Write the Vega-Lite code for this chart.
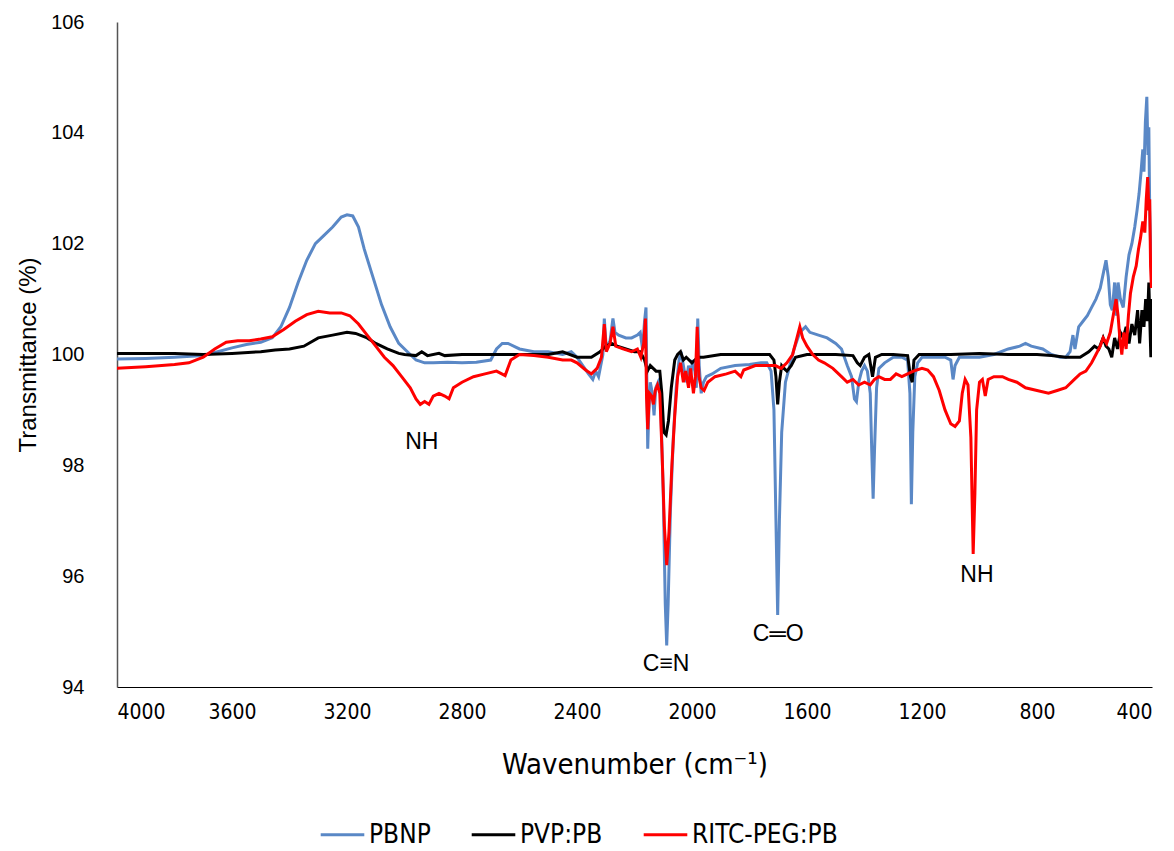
{
  "$schema": "https://vega.github.io/schema/vega-lite/v6.json",
  "width": 1035,
  "height": 665,
  "autosize": "none",
  "padding": {"left": 117, "top": 22, "right": 22, "bottom": 164},
  "background": "white",
  "config": {"view": {"stroke": null}},
  "datasets": {
    "spectra": [
      {"w":4000,"T":99.92,"s":"PBNP"},{"w":3900,"T":99.93,"s":"PBNP"},{"w":3800,"T":99.95,"s":"PBNP"},{"w":3700,"T":99.98,"s":"PBNP"},{"w":3650,"T":100.05,"s":"PBNP"},{"w":3600,"T":100.12,"s":"PBNP"},{"w":3550,"T":100.18,"s":"PBNP"},{"w":3500,"T":100.22,"s":"PBNP"},{"w":3460,"T":100.3,"s":"PBNP"},{"w":3430,"T":100.5,"s":"PBNP"},{"w":3400,"T":100.85,"s":"PBNP"},{"w":3370,"T":101.3,"s":"PBNP"},{"w":3340,"T":101.7,"s":"PBNP"},{"w":3310,"T":102.0,"s":"PBNP"},{"w":3280,"T":102.15,"s":"PBNP"},{"w":3250,"T":102.3,"s":"PBNP"},{"w":3220,"T":102.48,"s":"PBNP"},{"w":3200,"T":102.52,"s":"PBNP"},{"w":3180,"T":102.5,"s":"PBNP"},{"w":3160,"T":102.3,"s":"PBNP"},{"w":3140,"T":101.9,"s":"PBNP"},{"w":3110,"T":101.4,"s":"PBNP"},{"w":3080,"T":100.9,"s":"PBNP"},{"w":3050,"T":100.5,"s":"PBNP"},{"w":3020,"T":100.2,"s":"PBNP"},{"w":2990,"T":100.05,"s":"PBNP"},{"w":2960,"T":99.9,"s":"PBNP"},{"w":2930,"T":99.85,"s":"PBNP"},{"w":2900,"T":99.85,"s":"PBNP"},{"w":2850,"T":99.86,"s":"PBNP"},{"w":2800,"T":99.85,"s":"PBNP"},{"w":2750,"T":99.86,"s":"PBNP"},{"w":2700,"T":99.9,"s":"PBNP"},{"w":2680,"T":100.1,"s":"PBNP"},{"w":2660,"T":100.2,"s":"PBNP"},{"w":2640,"T":100.2,"s":"PBNP"},{"w":2600,"T":100.1,"s":"PBNP"},{"w":2550,"T":100.05,"s":"PBNP"},{"w":2500,"T":100.05,"s":"PBNP"},{"w":2450,"T":100.0,"s":"PBNP"},{"w":2420,"T":100.05,"s":"PBNP"},{"w":2400,"T":99.95,"s":"PBNP"},{"w":2380,"T":99.8,"s":"PBNP"},{"w":2360,"T":99.65,"s":"PBNP"},{"w":2345,"T":99.55,"s":"PBNP"},{"w":2335,"T":99.7,"s":"PBNP"},{"w":2325,"T":99.6,"s":"PBNP"},{"w":2310,"T":100.0,"s":"PBNP"},{"w":2305,"T":100.65,"s":"PBNP"},{"w":2298,"T":100.1,"s":"PBNP"},{"w":2285,"T":100.25,"s":"PBNP"},{"w":2275,"T":100.65,"s":"PBNP"},{"w":2268,"T":100.4,"s":"PBNP"},{"w":2255,"T":100.35,"s":"PBNP"},{"w":2230,"T":100.3,"s":"PBNP"},{"w":2210,"T":100.3,"s":"PBNP"},{"w":2190,"T":100.35,"s":"PBNP"},{"w":2180,"T":100.4,"s":"PBNP"},{"w":2172,"T":100.1,"s":"PBNP"},{"w":2165,"T":100.6,"s":"PBNP"},{"w":2160,"T":100.85,"s":"PBNP"},{"w":2157,"T":99.5,"s":"PBNP"},{"w":2154,"T":98.3,"s":"PBNP"},{"w":2150,"T":99.0,"s":"PBNP"},{"w":2145,"T":99.5,"s":"PBNP"},{"w":2138,"T":99.3,"s":"PBNP"},{"w":2132,"T":98.9,"s":"PBNP"},{"w":2126,"T":99.4,"s":"PBNP"},{"w":2118,"T":99.5,"s":"PBNP"},{"w":2110,"T":99.3,"s":"PBNP"},{"w":2100,"T":97.5,"s":"PBNP"},{"w":2093,"T":95.5,"s":"PBNP"},{"w":2088,"T":94.75,"s":"PBNP"},{"w":2083,"T":95.5,"s":"PBNP"},{"w":2075,"T":97.2,"s":"PBNP"},{"w":2065,"T":98.5,"s":"PBNP"},{"w":2055,"T":99.4,"s":"PBNP"},{"w":2045,"T":99.9,"s":"PBNP"},{"w":2038,"T":100.05,"s":"PBNP"},{"w":2030,"T":99.8,"s":"PBNP"},{"w":2020,"T":99.5,"s":"PBNP"},{"w":2012,"T":99.8,"s":"PBNP"},{"w":2005,"T":99.6,"s":"PBNP"},{"w":1998,"T":99.9,"s":"PBNP"},{"w":1990,"T":99.7,"s":"PBNP"},{"w":1985,"T":99.4,"s":"PBNP"},{"w":1980,"T":100.65,"s":"PBNP"},{"w":1975,"T":99.8,"s":"PBNP"},{"w":1968,"T":99.3,"s":"PBNP"},{"w":1960,"T":99.5,"s":"PBNP"},{"w":1950,"T":99.6,"s":"PBNP"},{"w":1930,"T":99.65,"s":"PBNP"},{"w":1900,"T":99.75,"s":"PBNP"},{"w":1850,"T":99.8,"s":"PBNP"},{"w":1800,"T":99.82,"s":"PBNP"},{"w":1760,"T":99.85,"s":"PBNP"},{"w":1740,"T":99.85,"s":"PBNP"},{"w":1725,"T":99.7,"s":"PBNP"},{"w":1715,"T":99.0,"s":"PBNP"},{"w":1708,"T":97.0,"s":"PBNP"},{"w":1702,"T":95.3,"s":"PBNP"},{"w":1696,"T":97.0,"s":"PBNP"},{"w":1688,"T":98.6,"s":"PBNP"},{"w":1675,"T":99.5,"s":"PBNP"},{"w":1660,"T":99.8,"s":"PBNP"},{"w":1645,"T":100.1,"s":"PBNP"},{"w":1625,"T":100.4,"s":"PBNP"},{"w":1605,"T":100.5,"s":"PBNP"},{"w":1590,"T":100.4,"s":"PBNP"},{"w":1560,"T":100.35,"s":"PBNP"},{"w":1530,"T":100.3,"s":"PBNP"},{"w":1500,"T":100.2,"s":"PBNP"},{"w":1480,"T":100.1,"s":"PBNP"},{"w":1460,"T":99.8,"s":"PBNP"},{"w":1445,"T":99.6,"s":"PBNP"},{"w":1435,"T":99.2,"s":"PBNP"},{"w":1428,"T":99.15,"s":"PBNP"},{"w":1420,"T":99.5,"s":"PBNP"},{"w":1410,"T":99.7,"s":"PBNP"},{"w":1400,"T":99.8,"s":"PBNP"},{"w":1390,"T":99.7,"s":"PBNP"},{"w":1380,"T":99.3,"s":"PBNP"},{"w":1375,"T":98.3,"s":"PBNP"},{"w":1370,"T":97.4,"s":"PBNP"},{"w":1365,"T":98.3,"s":"PBNP"},{"w":1358,"T":99.4,"s":"PBNP"},{"w":1350,"T":99.75,"s":"PBNP"},{"w":1330,"T":99.85,"s":"PBNP"},{"w":1300,"T":99.95,"s":"PBNP"},{"w":1270,"T":99.95,"s":"PBNP"},{"w":1250,"T":99.9,"s":"PBNP"},{"w":1242,"T":99.3,"s":"PBNP"},{"w":1237,"T":97.3,"s":"PBNP"},{"w":1232,"T":98.6,"s":"PBNP"},{"w":1225,"T":99.6,"s":"PBNP"},{"w":1215,"T":99.85,"s":"PBNP"},{"w":1200,"T":99.95,"s":"PBNP"},{"w":1150,"T":99.95,"s":"PBNP"},{"w":1120,"T":99.95,"s":"PBNP"},{"w":1100,"T":99.9,"s":"PBNP"},{"w":1092,"T":99.55,"s":"PBNP"},{"w":1085,"T":99.8,"s":"PBNP"},{"w":1070,"T":99.95,"s":"PBNP"},{"w":1000,"T":99.95,"s":"PBNP"},{"w":950,"T":100.0,"s":"PBNP"},{"w":900,"T":100.1,"s":"PBNP"},{"w":860,"T":100.15,"s":"PBNP"},{"w":840,"T":100.2,"s":"PBNP"},{"w":820,"T":100.15,"s":"PBNP"},{"w":780,"T":100.1,"s":"PBNP"},{"w":750,"T":100.0,"s":"PBNP"},{"w":720,"T":99.95,"s":"PBNP"},{"w":700,"T":99.95,"s":"PBNP"},{"w":685,"T":100.05,"s":"PBNP"},{"w":675,"T":100.35,"s":"PBNP"},{"w":668,"T":100.1,"s":"PBNP"},{"w":655,"T":100.5,"s":"PBNP"},{"w":640,"T":100.6,"s":"PBNP"},{"w":625,"T":100.7,"s":"PBNP"},{"w":610,"T":100.85,"s":"PBNP"},{"w":595,"T":101.0,"s":"PBNP"},{"w":580,"T":101.2,"s":"PBNP"},{"w":568,"T":101.5,"s":"PBNP"},{"w":560,"T":101.7,"s":"PBNP"},{"w":552,"T":101.4,"s":"PBNP"},{"w":545,"T":100.9,"s":"PBNP"},{"w":538,"T":100.8,"s":"PBNP"},{"w":530,"T":101.3,"s":"PBNP"},{"w":524,"T":100.7,"s":"PBNP"},{"w":518,"T":101.3,"s":"PBNP"},{"w":510,"T":101.0,"s":"PBNP"},{"w":500,"T":100.85,"s":"PBNP"},{"w":490,"T":101.4,"s":"PBNP"},{"w":480,"T":101.8,"s":"PBNP"},{"w":470,"T":102.0,"s":"PBNP"},{"w":460,"T":102.3,"s":"PBNP"},{"w":452,"T":102.6,"s":"PBNP"},{"w":445,"T":102.9,"s":"PBNP"},{"w":438,"T":103.3,"s":"PBNP"},{"w":432,"T":103.7,"s":"PBNP"},{"w":428,"T":103.3,"s":"PBNP"},{"w":423,"T":104.2,"s":"PBNP"},{"w":418,"T":104.65,"s":"PBNP"},{"w":414,"T":103.6,"s":"PBNP"},{"w":411,"T":104.1,"s":"PBNP"},{"w":408,"T":102.6,"s":"PBNP"},{"w":404,"T":101.8,"s":"PBNP"},{"w":401,"T":101.4,"s":"PBNP"},

      {"w":4000,"T":100.02,"s":"PVP:PB"},{"w":3800,"T":100.02,"s":"PVP:PB"},{"w":3700,"T":100.0,"s":"PVP:PB"},{"w":3600,"T":100.02,"s":"PVP:PB"},{"w":3500,"T":100.05,"s":"PVP:PB"},{"w":3450,"T":100.08,"s":"PVP:PB"},{"w":3400,"T":100.1,"s":"PVP:PB"},{"w":3350,"T":100.15,"s":"PVP:PB"},{"w":3300,"T":100.3,"s":"PVP:PB"},{"w":3250,"T":100.35,"s":"PVP:PB"},{"w":3200,"T":100.4,"s":"PVP:PB"},{"w":3170,"T":100.38,"s":"PVP:PB"},{"w":3130,"T":100.3,"s":"PVP:PB"},{"w":3100,"T":100.2,"s":"PVP:PB"},{"w":3060,"T":100.1,"s":"PVP:PB"},{"w":3020,"T":100.02,"s":"PVP:PB"},{"w":3000,"T":100.0,"s":"PVP:PB"},{"w":2960,"T":99.98,"s":"PVP:PB"},{"w":2940,"T":100.05,"s":"PVP:PB"},{"w":2920,"T":99.98,"s":"PVP:PB"},{"w":2880,"T":100.02,"s":"PVP:PB"},{"w":2860,"T":99.98,"s":"PVP:PB"},{"w":2800,"T":100.0,"s":"PVP:PB"},{"w":2700,"T":100.0,"s":"PVP:PB"},{"w":2600,"T":100.0,"s":"PVP:PB"},{"w":2500,"T":100.0,"s":"PVP:PB"},{"w":2450,"T":100.05,"s":"PVP:PB"},{"w":2400,"T":99.95,"s":"PVP:PB"},{"w":2350,"T":99.95,"s":"PVP:PB"},{"w":2320,"T":100.05,"s":"PVP:PB"},{"w":2300,"T":100.15,"s":"PVP:PB"},{"w":2280,"T":100.2,"s":"PVP:PB"},{"w":2260,"T":100.15,"s":"PVP:PB"},{"w":2230,"T":100.1,"s":"PVP:PB"},{"w":2200,"T":100.05,"s":"PVP:PB"},{"w":2180,"T":100.05,"s":"PVP:PB"},{"w":2165,"T":99.9,"s":"PVP:PB"},{"w":2155,"T":99.7,"s":"PVP:PB"},{"w":2145,"T":99.8,"s":"PVP:PB"},{"w":2135,"T":99.75,"s":"PVP:PB"},{"w":2125,"T":99.7,"s":"PVP:PB"},{"w":2112,"T":99.7,"s":"PVP:PB"},{"w":2105,"T":99.3,"s":"PVP:PB"},{"w":2098,"T":98.6,"s":"PVP:PB"},{"w":2090,"T":98.55,"s":"PVP:PB"},{"w":2082,"T":98.8,"s":"PVP:PB"},{"w":2072,"T":99.4,"s":"PVP:PB"},{"w":2060,"T":99.9,"s":"PVP:PB"},{"w":2050,"T":100.0,"s":"PVP:PB"},{"w":2040,"T":100.05,"s":"PVP:PB"},{"w":2030,"T":99.9,"s":"PVP:PB"},{"w":2020,"T":99.95,"s":"PVP:PB"},{"w":2000,"T":99.85,"s":"PVP:PB"},{"w":1980,"T":99.95,"s":"PVP:PB"},{"w":1960,"T":99.95,"s":"PVP:PB"},{"w":1900,"T":100.0,"s":"PVP:PB"},{"w":1800,"T":100.0,"s":"PVP:PB"},{"w":1730,"T":100.0,"s":"PVP:PB"},{"w":1715,"T":99.9,"s":"PVP:PB"},{"w":1708,"T":99.6,"s":"PVP:PB"},{"w":1702,"T":99.1,"s":"PVP:PB"},{"w":1696,"T":99.5,"s":"PVP:PB"},{"w":1688,"T":99.8,"s":"PVP:PB"},{"w":1680,"T":99.75,"s":"PVP:PB"},{"w":1670,"T":99.7,"s":"PVP:PB"},{"w":1655,"T":99.8,"s":"PVP:PB"},{"w":1640,"T":99.95,"s":"PVP:PB"},{"w":1600,"T":100.0,"s":"PVP:PB"},{"w":1500,"T":100.0,"s":"PVP:PB"},{"w":1440,"T":99.98,"s":"PVP:PB"},{"w":1425,"T":99.85,"s":"PVP:PB"},{"w":1415,"T":99.8,"s":"PVP:PB"},{"w":1400,"T":99.95,"s":"PVP:PB"},{"w":1385,"T":100.0,"s":"PVP:PB"},{"w":1372,"T":99.6,"s":"PVP:PB"},{"w":1362,"T":99.95,"s":"PVP:PB"},{"w":1340,"T":100.0,"s":"PVP:PB"},{"w":1300,"T":100.0,"s":"PVP:PB"},{"w":1250,"T":99.98,"s":"PVP:PB"},{"w":1240,"T":99.6,"s":"PVP:PB"},{"w":1234,"T":99.5,"s":"PVP:PB"},{"w":1228,"T":99.9,"s":"PVP:PB"},{"w":1210,"T":100.0,"s":"PVP:PB"},{"w":1150,"T":100.0,"s":"PVP:PB"},{"w":1100,"T":100.0,"s":"PVP:PB"},{"w":1000,"T":100.02,"s":"PVP:PB"},{"w":900,"T":100.0,"s":"PVP:PB"},{"w":800,"T":100.0,"s":"PVP:PB"},{"w":750,"T":99.98,"s":"PVP:PB"},{"w":700,"T":99.95,"s":"PVP:PB"},{"w":650,"T":99.95,"s":"PVP:PB"},{"w":620,"T":100.05,"s":"PVP:PB"},{"w":600,"T":100.15,"s":"PVP:PB"},{"w":585,"T":100.1,"s":"PVP:PB"},{"w":570,"T":100.3,"s":"PVP:PB"},{"w":560,"T":100.15,"s":"PVP:PB"},{"w":550,"T":100.1,"s":"PVP:PB"},{"w":540,"T":99.95,"s":"PVP:PB"},{"w":530,"T":100.3,"s":"PVP:PB"},{"w":520,"T":100.1,"s":"PVP:PB"},{"w":510,"T":100.4,"s":"PVP:PB"},{"w":500,"T":100.3,"s":"PVP:PB"},{"w":490,"T":100.5,"s":"PVP:PB"},{"w":480,"T":100.2,"s":"PVP:PB"},{"w":470,"T":100.55,"s":"PVP:PB"},{"w":460,"T":100.35,"s":"PVP:PB"},{"w":450,"T":100.8,"s":"PVP:PB"},{"w":443,"T":100.2,"s":"PVP:PB"},{"w":435,"T":100.8,"s":"PVP:PB"},{"w":428,"T":100.5,"s":"PVP:PB"},{"w":422,"T":101.0,"s":"PVP:PB"},{"w":416,"T":100.6,"s":"PVP:PB"},{"w":411,"T":101.3,"s":"PVP:PB"},{"w":407,"T":100.5,"s":"PVP:PB"},{"w":404,"T":99.95,"s":"PVP:PB"},{"w":402,"T":101.0,"s":"PVP:PB"},

      {"w":4000,"T":99.75,"s":"RITC-PEG:PB"},{"w":3900,"T":99.78,"s":"RITC-PEG:PB"},{"w":3800,"T":99.82,"s":"RITC-PEG:PB"},{"w":3750,"T":99.85,"s":"RITC-PEG:PB"},{"w":3700,"T":99.95,"s":"RITC-PEG:PB"},{"w":3660,"T":100.1,"s":"RITC-PEG:PB"},{"w":3620,"T":100.22,"s":"RITC-PEG:PB"},{"w":3580,"T":100.25,"s":"RITC-PEG:PB"},{"w":3540,"T":100.25,"s":"RITC-PEG:PB"},{"w":3500,"T":100.28,"s":"RITC-PEG:PB"},{"w":3460,"T":100.32,"s":"RITC-PEG:PB"},{"w":3420,"T":100.45,"s":"RITC-PEG:PB"},{"w":3380,"T":100.6,"s":"RITC-PEG:PB"},{"w":3340,"T":100.72,"s":"RITC-PEG:PB"},{"w":3300,"T":100.78,"s":"RITC-PEG:PB"},{"w":3260,"T":100.75,"s":"RITC-PEG:PB"},{"w":3220,"T":100.75,"s":"RITC-PEG:PB"},{"w":3190,"T":100.7,"s":"RITC-PEG:PB"},{"w":3160,"T":100.55,"s":"RITC-PEG:PB"},{"w":3130,"T":100.35,"s":"RITC-PEG:PB"},{"w":3100,"T":100.15,"s":"RITC-PEG:PB"},{"w":3070,"T":99.95,"s":"RITC-PEG:PB"},{"w":3040,"T":99.8,"s":"RITC-PEG:PB"},{"w":3010,"T":99.6,"s":"RITC-PEG:PB"},{"w":2980,"T":99.4,"s":"RITC-PEG:PB"},{"w":2960,"T":99.2,"s":"RITC-PEG:PB"},{"w":2945,"T":99.1,"s":"RITC-PEG:PB"},{"w":2930,"T":99.15,"s":"RITC-PEG:PB"},{"w":2915,"T":99.1,"s":"RITC-PEG:PB"},{"w":2900,"T":99.25,"s":"RITC-PEG:PB"},{"w":2880,"T":99.3,"s":"RITC-PEG:PB"},{"w":2860,"T":99.25,"s":"RITC-PEG:PB"},{"w":2845,"T":99.2,"s":"RITC-PEG:PB"},{"w":2830,"T":99.4,"s":"RITC-PEG:PB"},{"w":2800,"T":99.5,"s":"RITC-PEG:PB"},{"w":2760,"T":99.6,"s":"RITC-PEG:PB"},{"w":2720,"T":99.65,"s":"RITC-PEG:PB"},{"w":2680,"T":99.7,"s":"RITC-PEG:PB"},{"w":2650,"T":99.62,"s":"RITC-PEG:PB"},{"w":2630,"T":99.9,"s":"RITC-PEG:PB"},{"w":2600,"T":100.0,"s":"RITC-PEG:PB"},{"w":2550,"T":99.98,"s":"RITC-PEG:PB"},{"w":2500,"T":99.95,"s":"RITC-PEG:PB"},{"w":2450,"T":99.9,"s":"RITC-PEG:PB"},{"w":2420,"T":99.9,"s":"RITC-PEG:PB"},{"w":2400,"T":99.85,"s":"RITC-PEG:PB"},{"w":2370,"T":99.72,"s":"RITC-PEG:PB"},{"w":2350,"T":99.65,"s":"RITC-PEG:PB"},{"w":2330,"T":99.75,"s":"RITC-PEG:PB"},{"w":2315,"T":99.95,"s":"RITC-PEG:PB"},{"w":2305,"T":100.55,"s":"RITC-PEG:PB"},{"w":2298,"T":100.05,"s":"RITC-PEG:PB"},{"w":2285,"T":100.2,"s":"RITC-PEG:PB"},{"w":2275,"T":100.5,"s":"RITC-PEG:PB"},{"w":2265,"T":100.15,"s":"RITC-PEG:PB"},{"w":2240,"T":100.1,"s":"RITC-PEG:PB"},{"w":2210,"T":100.05,"s":"RITC-PEG:PB"},{"w":2190,"T":100.1,"s":"RITC-PEG:PB"},{"w":2178,"T":99.95,"s":"RITC-PEG:PB"},{"w":2168,"T":100.2,"s":"RITC-PEG:PB"},{"w":2162,"T":100.65,"s":"RITC-PEG:PB"},{"w":2158,"T":99.2,"s":"RITC-PEG:PB"},{"w":2154,"T":98.65,"s":"RITC-PEG:PB"},{"w":2148,"T":99.3,"s":"RITC-PEG:PB"},{"w":2140,"T":99.25,"s":"RITC-PEG:PB"},{"w":2134,"T":99.1,"s":"RITC-PEG:PB"},{"w":2128,"T":99.35,"s":"RITC-PEG:PB"},{"w":2120,"T":99.45,"s":"RITC-PEG:PB"},{"w":2112,"T":99.3,"s":"RITC-PEG:PB"},{"w":2104,"T":98.2,"s":"RITC-PEG:PB"},{"w":2096,"T":96.9,"s":"RITC-PEG:PB"},{"w":2088,"T":96.2,"s":"RITC-PEG:PB"},{"w":2080,"T":96.8,"s":"RITC-PEG:PB"},{"w":2070,"T":98.0,"s":"RITC-PEG:PB"},{"w":2060,"T":98.9,"s":"RITC-PEG:PB"},{"w":2050,"T":99.6,"s":"RITC-PEG:PB"},{"w":2040,"T":99.85,"s":"RITC-PEG:PB"},{"w":2030,"T":99.5,"s":"RITC-PEG:PB"},{"w":2022,"T":99.7,"s":"RITC-PEG:PB"},{"w":2012,"T":99.4,"s":"RITC-PEG:PB"},{"w":2005,"T":99.75,"s":"RITC-PEG:PB"},{"w":1995,"T":99.3,"s":"RITC-PEG:PB"},{"w":1988,"T":99.6,"s":"RITC-PEG:PB"},{"w":1982,"T":100.5,"s":"RITC-PEG:PB"},{"w":1976,"T":99.6,"s":"RITC-PEG:PB"},{"w":1968,"T":99.4,"s":"RITC-PEG:PB"},{"w":1958,"T":99.35,"s":"RITC-PEG:PB"},{"w":1945,"T":99.5,"s":"RITC-PEG:PB"},{"w":1920,"T":99.6,"s":"RITC-PEG:PB"},{"w":1880,"T":99.65,"s":"RITC-PEG:PB"},{"w":1850,"T":99.7,"s":"RITC-PEG:PB"},{"w":1830,"T":99.6,"s":"RITC-PEG:PB"},{"w":1820,"T":99.72,"s":"RITC-PEG:PB"},{"w":1780,"T":99.8,"s":"RITC-PEG:PB"},{"w":1740,"T":99.8,"s":"RITC-PEG:PB"},{"w":1710,"T":99.8,"s":"RITC-PEG:PB"},{"w":1690,"T":99.75,"s":"RITC-PEG:PB"},{"w":1670,"T":99.85,"s":"RITC-PEG:PB"},{"w":1650,"T":100.0,"s":"RITC-PEG:PB"},{"w":1635,"T":100.3,"s":"RITC-PEG:PB"},{"w":1625,"T":100.5,"s":"RITC-PEG:PB"},{"w":1615,"T":100.3,"s":"RITC-PEG:PB"},{"w":1600,"T":100.15,"s":"RITC-PEG:PB"},{"w":1580,"T":100.0,"s":"RITC-PEG:PB"},{"w":1560,"T":99.9,"s":"RITC-PEG:PB"},{"w":1540,"T":99.85,"s":"RITC-PEG:PB"},{"w":1510,"T":99.75,"s":"RITC-PEG:PB"},{"w":1480,"T":99.6,"s":"RITC-PEG:PB"},{"w":1460,"T":99.5,"s":"RITC-PEG:PB"},{"w":1440,"T":99.55,"s":"RITC-PEG:PB"},{"w":1420,"T":99.45,"s":"RITC-PEG:PB"},{"w":1400,"T":99.5,"s":"RITC-PEG:PB"},{"w":1380,"T":99.45,"s":"RITC-PEG:PB"},{"w":1365,"T":99.55,"s":"RITC-PEG:PB"},{"w":1350,"T":99.6,"s":"RITC-PEG:PB"},{"w":1330,"T":99.55,"s":"RITC-PEG:PB"},{"w":1310,"T":99.55,"s":"RITC-PEG:PB"},{"w":1290,"T":99.65,"s":"RITC-PEG:PB"},{"w":1270,"T":99.6,"s":"RITC-PEG:PB"},{"w":1250,"T":99.65,"s":"RITC-PEG:PB"},{"w":1230,"T":99.7,"s":"RITC-PEG:PB"},{"w":1200,"T":99.75,"s":"RITC-PEG:PB"},{"w":1180,"T":99.72,"s":"RITC-PEG:PB"},{"w":1160,"T":99.6,"s":"RITC-PEG:PB"},{"w":1140,"T":99.35,"s":"RITC-PEG:PB"},{"w":1120,"T":99.0,"s":"RITC-PEG:PB"},{"w":1100,"T":98.75,"s":"RITC-PEG:PB"},{"w":1085,"T":98.7,"s":"RITC-PEG:PB"},{"w":1070,"T":98.8,"s":"RITC-PEG:PB"},{"w":1060,"T":99.3,"s":"RITC-PEG:PB"},{"w":1050,"T":99.55,"s":"RITC-PEG:PB"},{"w":1040,"T":99.45,"s":"RITC-PEG:PB"},{"w":1030,"T":98.5,"s":"RITC-PEG:PB"},{"w":1022,"T":96.4,"s":"RITC-PEG:PB"},{"w":1016,"T":97.5,"s":"RITC-PEG:PB"},{"w":1010,"T":99.0,"s":"RITC-PEG:PB"},{"w":1000,"T":99.5,"s":"RITC-PEG:PB"},{"w":990,"T":99.55,"s":"RITC-PEG:PB"},{"w":980,"T":99.25,"s":"RITC-PEG:PB"},{"w":970,"T":99.55,"s":"RITC-PEG:PB"},{"w":950,"T":99.6,"s":"RITC-PEG:PB"},{"w":920,"T":99.6,"s":"RITC-PEG:PB"},{"w":900,"T":99.55,"s":"RITC-PEG:PB"},{"w":870,"T":99.5,"s":"RITC-PEG:PB"},{"w":840,"T":99.4,"s":"RITC-PEG:PB"},{"w":800,"T":99.35,"s":"RITC-PEG:PB"},{"w":760,"T":99.3,"s":"RITC-PEG:PB"},{"w":730,"T":99.35,"s":"RITC-PEG:PB"},{"w":700,"T":99.4,"s":"RITC-PEG:PB"},{"w":670,"T":99.55,"s":"RITC-PEG:PB"},{"w":650,"T":99.65,"s":"RITC-PEG:PB"},{"w":630,"T":99.7,"s":"RITC-PEG:PB"},{"w":610,"T":99.85,"s":"RITC-PEG:PB"},{"w":595,"T":100.0,"s":"RITC-PEG:PB"},{"w":580,"T":100.15,"s":"RITC-PEG:PB"},{"w":570,"T":100.3,"s":"RITC-PEG:PB"},{"w":558,"T":100.2,"s":"RITC-PEG:PB"},{"w":545,"T":100.4,"s":"RITC-PEG:PB"},{"w":535,"T":100.7,"s":"RITC-PEG:PB"},{"w":525,"T":101.0,"s":"RITC-PEG:PB"},{"w":518,"T":100.7,"s":"RITC-PEG:PB"},{"w":512,"T":100.3,"s":"RITC-PEG:PB"},{"w":505,"T":100.0,"s":"RITC-PEG:PB"},{"w":498,"T":100.4,"s":"RITC-PEG:PB"},{"w":490,"T":100.1,"s":"RITC-PEG:PB"},{"w":482,"T":100.7,"s":"RITC-PEG:PB"},{"w":475,"T":101.1,"s":"RITC-PEG:PB"},{"w":465,"T":101.4,"s":"RITC-PEG:PB"},{"w":455,"T":101.6,"s":"RITC-PEG:PB"},{"w":447,"T":101.9,"s":"RITC-PEG:PB"},{"w":440,"T":102.1,"s":"RITC-PEG:PB"},{"w":432,"T":102.4,"s":"RITC-PEG:PB"},{"w":425,"T":102.2,"s":"RITC-PEG:PB"},{"w":420,"T":102.8,"s":"RITC-PEG:PB"},{"w":415,"T":103.2,"s":"RITC-PEG:PB"},{"w":411,"T":102.6,"s":"RITC-PEG:PB"},{"w":408,"T":102.8,"s":"RITC-PEG:PB"},{"w":405,"T":101.6,"s":"RITC-PEG:PB"},{"w":402,"T":101.2,"s":"RITC-PEG:PB"}
    ],
    "labels": [
      {"w":2940,"T":98.42,"label":"NH"},
      {"w":2090,"T":94.42,"label":"C≡N"},
      {"w":1700,"T":94.96,"label":"C═O"},
      {"w":1009,"T":96.02,"label":"NH"}
    ]
  },
  "layer": [
    {
      "data": {"name": "spectra"},
      "mark": {"type": "line", "strokeWidth": 3, "interpolate": "linear", "clip": true},
      "encoding": {
        "x": {
          "field": "w", "type": "quantitative",
          "scale": {"domain": [400, 4000], "reverse": true, "nice": false, "zero": false},
          "axis": {
            "values": [400, 800, 1200, 1600, 2000, 2400, 2800, 3200, 3600, 4000],
            "format": "d",
            "grid": false, "ticks": false, "domainColor": "#000000", "domainWidth": 1,
            "labelFont": "Liberation Sans Narrow, DejaVu Sans Condensed, sans-serif",
            "labelFontSize": 21, "labelColor": "#000000", "labelPadding": 14,
            "title": "Wavenumber (cm⁻¹)",
            "titleFont": "Liberation Sans Narrow, DejaVu Sans Condensed, sans-serif",
            "titleFontSize": 29, "titleFontWeight": "normal", "titleColor": "#000000", "titlePadding": 28
          }
        },
        "y": {
          "field": "T", "type": "quantitative",
          "scale": {"domain": [94, 106], "nice": false, "zero": false},
          "axis": {
            "values": [94, 96, 98, 100, 102, 104, 106],
            "format": "d",
            "grid": false, "ticks": false, "domainColor": "#555555", "domainWidth": 1.5,
            "labelFont": "Liberation Sans, Arial, sans-serif",
            "labelFontSize": 20, "labelColor": "#000000", "labelPadding": 33,
            "title": "Transmittance (%)",
            "titleFont": "Liberation Sans, Arial, sans-serif",
            "titleFontSize": 24, "titleFontWeight": "normal", "titleColor": "#000000", "titlePadding": 10
          }
        },
        "color": {
          "field": "s", "type": "nominal",
          "scale": {"domain": ["PBNP", "PVP:PB", "RITC-PEG:PB"], "range": ["#5A88C6", "#000000", "#FF0000"]},
          "legend": {
            "title": null, "orient": "none", "direction": "horizontal",
            "legendX": 202, "legendY": 789,
            "symbolType": "stroke", "symbolStrokeWidth": 3, "symbolSize": 1900,
            "labelFont": "Liberation Sans Narrow, DejaVu Sans Condensed, sans-serif",
            "labelFontSize": 26, "labelColor": "#000000", "labelOffset": 3,
            "columnPadding": 34
          }
        }
      }
    },
    {
      "data": {"name": "labels"},
      "mark": {"type": "text", "fontSize": 23, "font": "Liberation Sans, Arial, sans-serif", "color": "#000000", "align": "center", "baseline": "middle"},
      "encoding": {
        "x": {"field": "w", "type": "quantitative"},
        "y": {"field": "T", "type": "quantitative"},
        "text": {"field": "label"}
      }
    }
  ]
}
